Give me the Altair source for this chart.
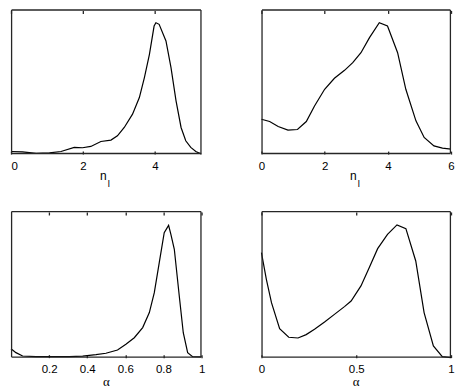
import altair as alt
import pandas as pd

# ---- data ----
p1_x = [0, 0.32, 0.70, 1.07, 1.39, 1.76, 1.99, 2.22, 2.50, 2.78, 2.96, 3.15, 3.38, 3.57,
        3.71, 3.85, 3.98, 4.03, 4.12, 4.31, 4.45, 4.59, 4.73, 4.86, 5.00, 5.14, 5.30]
p1_y = [1.8, 1.6, 0.5, 0.9, 1.8, 4.6, 4.4, 5.3, 8.7, 9.7, 12.6, 18.4, 27.6, 39.1,
        52.9, 69.0, 88.5, 90.8, 89.7, 78.2, 59.8, 36.8, 18.4, 9.2, 4.6, 1.8, 0.0]

p2_x = [0, 0.26, 0.53, 0.84, 1.14, 1.42, 1.68, 2.00, 2.31, 2.63, 2.89, 3.15, 3.42,
        3.73, 3.99, 4.31, 4.57, 4.89, 5.15, 5.46, 5.73, 6.0]
p2_y = [24.1, 22.5, 19.1, 16.6, 17.0, 22.5, 33.3, 44.8, 52.4, 57.9, 63.2, 70.1, 80.5,
        90.8, 88.5, 70.1, 44.8, 23.0, 11.5, 5.7, 4.1, 3.4]

p3_x = [0, 0.026, 0.061, 0.131, 0.219, 0.306, 0.376, 0.446, 0.498, 0.559, 0.603, 0.647,
        0.691, 0.726, 0.752, 0.778, 0.804, 0.827, 0.839, 0.857, 0.883, 0.904, 0.927,
        0.953, 1.0]
p3_y = [6.1, 3.4, 1.1, 0.7, 0.7, 0.7, 1.1, 2.0, 3.0, 5.2, 9.1, 13.6, 20.5, 30.7, 44.3,
        64.8, 85.2, 90.2, 84.1, 73.9, 42.0, 17.0, 3.4, 0.7, 0.5]

p4_x = [0, 0.026, 0.053, 0.096, 0.144, 0.193, 0.236, 0.280, 0.333, 0.385, 0.438, 0.473,
        0.525, 0.569, 0.613, 0.665, 0.715, 0.762, 0.814, 0.858, 0.907, 0.954, 1.0]
p4_y = [71.6, 53.4, 37.5, 19.8, 13.9, 13.4, 15.7, 19.3, 24.3, 29.5, 34.8, 38.6, 48.9,
        61.4, 74.3, 84.1, 90.5, 88.0, 65.9, 30.7, 8.0, 0.7, 0.0]

x_domains = [[0, 5.3], [0, 6], [0, 1], [0, 1]]
x_ticks = [[0, 2, 4], [0, 2, 4, 6], [0.2, 0.4, 0.6, 0.8, 1], [0, 0.5, 1]]
titles = ["n", "n", "α", "α"]
subs = ["l", "l", "", ""]

xs = [p1_x, p2_x, p3_x, p4_x]
ys = [p1_y, p2_y, p3_y, p4_y]
widths = [191, 190, 191, 190]
heights = [145, 145, 147, 147]
flush = [True, False, False, False]

SANS = "Liberation Sans"
SERIF = "Liberation Serif"
INK = "#000000"
FRAME = "#262626"


def frame_rule(x1, x2, y1, y2):
    one = pd.DataFrame({"k": [0]})
    return alt.Chart(one).mark_rule(color=FRAME, strokeWidth=1.3).encode(
        x=alt.value(x1), x2=alt.value(x2), y=alt.value(y1), y2=alt.value(y2)
    )


def panel(i):
    w, h = widths[i], heights[i]
    df = pd.DataFrame({"x": xs[i], "y": ys[i]})
    xscale = alt.Scale(domain=x_domains[i], nice=False, zero=False)
    yscale = alt.Scale(domain=[0, 100], nice=False, zero=False)
    bottom_axis = alt.Axis(
        orient="bottom", values=x_ticks[i], format="~g", offset=-3, tickSize=3,
        tickColor=FRAME, tickWidth=1.3, labelPadding=6, domain=False, grid=False,
        title=None, labelFont=SANS, labelFontSize=11.5, labelColor=INK,
        labelFlush=flush[i], labelOverlap=False,
    )
    top_axis = alt.Axis(
        orient="top", values=x_ticks[i], offset=-4, tickSize=3, tickColor=FRAME,
        tickWidth=1.3, labels=False, domain=False, grid=False, title=None,
    )
    line = alt.Chart(df).mark_line(color=INK, strokeWidth=1.2).encode(
        x=alt.X("x:Q", scale=xscale, axis=bottom_axis),
        y=alt.Y("y:Q", scale=yscale, axis=None),
    )
    ghost = alt.Chart(df).mark_line(strokeOpacity=0).encode(
        x=alt.X("x:Q", scale=xscale, axis=top_axis),
        y=alt.Y("y:Q", scale=yscale, axis=None),
    )
    a, b = 0.6, 0.6
    layers = [
        line, ghost,
        frame_rule(a, w - b, a, a),
        frame_rule(a, w - b, h - b, h - b),
        frame_rule(a, a, a, h - b),
        frame_rule(w - b, w - b, a, h - b),
    ]
    tdf = pd.DataFrame({"t": [titles[i]]})
    if subs[i]:
        sdf = pd.DataFrame({"t": [subs[i]]})
        layers.append(
            alt.Chart(tdf).mark_text(font=SANS, fontSize=12, color=INK,
                                     baseline="alphabetic", align="center").encode(
                text="t:N", x=alt.value(w / 2 - 3), y=alt.value(h + 26))
        )
        layers.append(
            alt.Chart(sdf).mark_text(font=SANS, fontSize=9.5, color=INK,
                                     baseline="alphabetic", align="center").encode(
                text="t:N", x=alt.value(w / 2 + 2.5), y=alt.value(h + 33))
        )
    else:
        layers.append(
            alt.Chart(tdf).mark_text(font=SERIF, fontSize=13, color=INK,
                                     baseline="alphabetic", align="center").encode(
                text="t:N", x=alt.value(w / 2), y=alt.value(h + 28))
        )
    return alt.layer(*layers).properties(width=w, height=h)


chart = alt.concat(
    *[panel(i) for i in range(4)], columns=2,
    spacing={"row": 57, "column": 60}, bounds="flush",
).properties(padding=0, background="white").configure_view(stroke=None)

chart.save("out.html", embed_options={"renderer": "svg", "actions": False})
